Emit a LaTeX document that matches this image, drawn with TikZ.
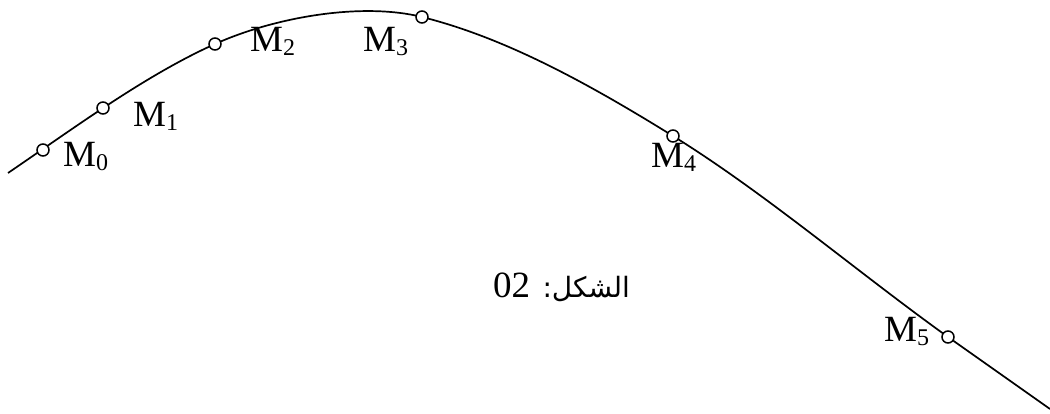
\documentclass[tikz,border=0pt]{standalone}
\usepackage{fontspec}
\setmainfont{Liberation Serif}
\newfontfamily\arabicfont[Script=Arabic]{DejaVu Sans}
\TeXXeTstate=1
\newcommand{\Mlab}[1]{M\raisebox{-4pt}{\fontsize{24}{24}\selectfont #1}}
\tikzset{
  ptcirc/.style={circle, draw, fill=white, line width=1.5pt, minimum size=12pt, inner sep=0pt},
  lbl/.style={anchor=base west, inner sep=0pt, font=\fontsize{37}{40}\selectfont}
}
\begin{document}
\begin{tikzpicture}[x=1pt,y=-1pt]
	\useasboundingbox (0,0) rectangle (1050,414);
	\draw[line width=1.7pt] (8,173) .. controls (77,126) and (146,75) .. (215,44)
		.. controls (275,17) and (362,2) .. (422,17)
		.. controls (506,38) and (589,84) .. (673,136)
		.. controls (765,193) and (856,271) .. (948,337)
		.. controls (982,361) and (1016,385) .. (1050,409);
	
	\node[ptcirc] (M0) at (43,150) {};
	\node[ptcirc] (M1) at (103,108) {};
	\node[ptcirc] (M2) at (215,44) {};
	\node[ptcirc] (M3) at (422,17) {};
	\node[ptcirc] (M4) at (673,136) {};
	\node[ptcirc] (M5) at (948,337) {};
	
	\node[lbl] (l0) at (63,167) {\Mlab{0}};
	\node[lbl] (l1) at (133,127) {\Mlab{1}};
	\node[lbl] (l2) at (250,52) {\Mlab{2}};
	\node[lbl] (l3) at (363,52) {\Mlab{3}};
	\node[lbl] (l4) at (651,168) {\Mlab{4}};
	\node[lbl] (l5) at (884,341) {\Mlab{5}};
	
	\node[lbl] (cap) at (493,298) {\beginR{\arabicfont\fontsize{28}{32}\selectfont الشكل:} \beginL 02\endL\endR};
\end{tikzpicture}
\end{document}
